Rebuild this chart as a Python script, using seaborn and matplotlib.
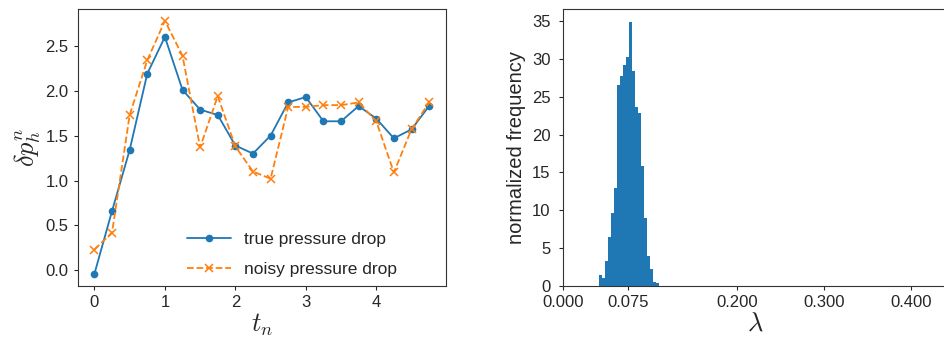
import numpy as np
import pandas as pd
import matplotlib
matplotlib.use("Agg")
import matplotlib.pyplot as plt
import seaborn as sns

# time steps and pressure drops (left panel)
t_n = [0.0, 0.25, 0.5, 0.75, 1.0, 1.25, 1.5, 1.75, 2.0, 2.25,
       2.5, 2.75, 3.0, 3.25, 3.5, 3.75, 4.0, 4.25, 4.5, 4.75]
true_drop = [-0.04, 0.66, 1.34, 2.19, 2.60, 2.01, 1.79, 1.73, 1.39, 1.30,
             1.50, 1.87, 1.93, 1.66, 1.66, 1.83, 1.69, 1.47, 1.57, 1.83]
noisy_drop = [0.23, 0.42, 1.73, 2.34, 2.78, 2.39, 1.37, 1.94, 1.38, 1.10,
              1.02, 1.82, 1.82, 1.84, 1.84, 1.87, 1.66, 1.09, 1.57, 1.87]

# histogram of lambda samples (right panel)
bin_start = 0.0410
bin_width = 0.00349
hist_heights = [1.45, 1.1, 3.3, 6.5, 9.7, 12.9, 26.5, 27.7, 29.2, 30.2,
                34.8, 28.4, 23.6, 22.8, 15.8, 9.0, 4.0, 2.2, 0.5, 0.35]
lam_ticks = [0.0, 0.075, 0.2, 0.3, 0.4]
lam_labels = ["0.000", "0.075", "0.200", "0.300", "0.400"]

bin_edges = list(bin_start + bin_width * np.arange(len(hist_heights) + 1))
hist_df = pd.DataFrame({
    'lam': [0.5 * (a + b) for a, b in zip(bin_edges[:-1], bin_edges[1:])],
    'freq': hist_heights,
})

sns.set_style("ticks")
plt.rcParams['font.family'] = ['Liberation Sans', 'DejaVu Sans']
plt.rcParams['mathtext.fontset'] = 'cm'
plt.rcParams['font.size'] = 12

fig = plt.figure(figsize=(9.44, 3.40), dpi=100)
ax1 = fig.add_axes([0.0823, 0.159, 0.390, 0.815])
ax2 = fig.add_axes([0.5964, 0.159, 0.4078, 0.815])

# left: pressure drop
sns.lineplot(x=t_n, y=true_drop, ax=ax1, color='#1f77b4', marker='o',
             markersize=5.5, markeredgewidth=0, linewidth=1.3,
             label='true pressure drop')
sns.lineplot(x=t_n, y=noisy_drop, ax=ax1, color='#ff7f0e', marker='x',
             markersize=5.5, markeredgecolor='#ff7f0e', markeredgewidth=1.1,
             linestyle='--', linewidth=1.3, label='noisy pressure drop')
ax1.set_ylim(-0.175, 2.913)
ax1.set_xticks([0, 1, 2, 3, 4])
ax1.set_yticks([0.0, 0.5, 1.0, 1.5, 2.0, 2.5])
ax1.set_xlabel('$t_n$', fontsize=19, labelpad=1)
ax1.set_ylabel('$\\delta p_h^n$', fontsize=19, labelpad=2)
ax1.legend(loc='lower left', bbox_to_anchor=(0.255, -0.025), frameon=False,
           handlelength=2.5, labelspacing=0.85, fontsize=12.5)

# right: histogram of lambda
sns.histplot(data=hist_df, x='lam', weights='freq', bins=bin_edges, ax=ax2,
             color='#1f77b4', alpha=1.0, linewidth=0, edgecolor='none')
ax2.set_xlim(0, 0.4425)
ax2.set_ylim(0, 36.6)
ax2.set_xticks(lam_ticks)
ax2.set_xticklabels(lam_labels)
ax2.set_yticks(range(0, 36, 5))
ax2.set_xlabel('$\\lambda$', fontsize=19, labelpad=1)
ax2.set_ylabel('normalized frequency', fontsize=14.5)

for ax in (ax1, ax2):
    ax.tick_params(labelsize=12, length=3)
    for s in ax.spines.values():
        s.set_color('#333333')
ax2.tick_params(axis='y', pad=6)

fig.savefig('out.png', dpi=100)
